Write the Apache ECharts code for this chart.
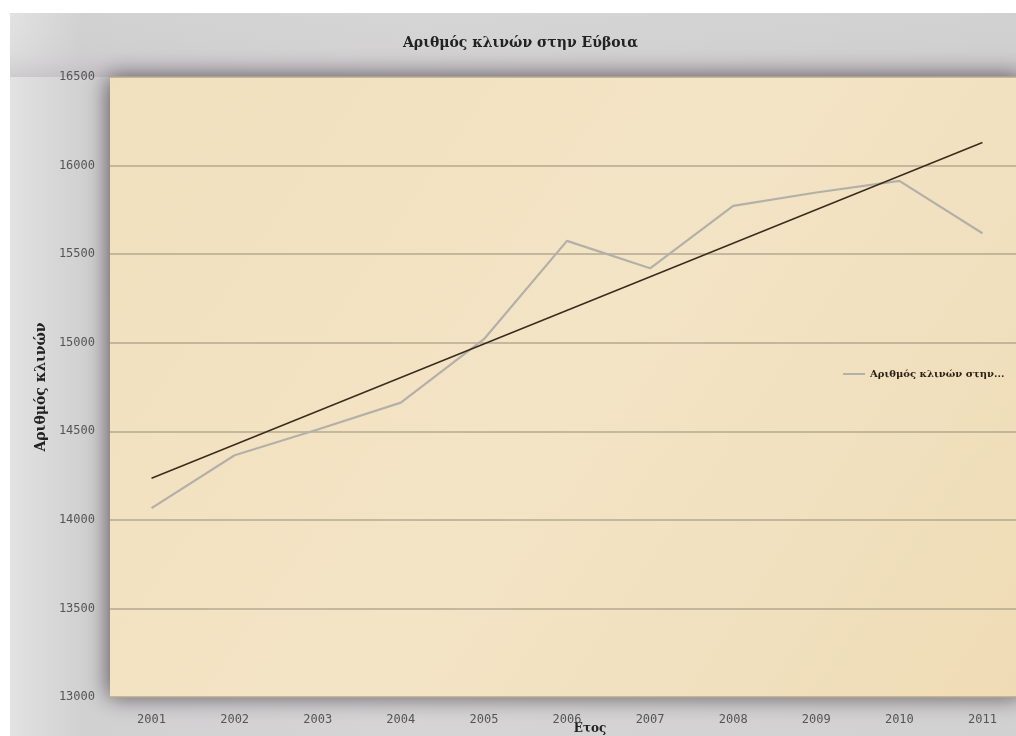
<!DOCTYPE html>
<html>
<head>
<meta charset="utf-8">
<script src="https://cdn.jsdelivr.net/npm/echarts@6/dist/echarts.min.js"></script>
<style>
html,body{margin:0;padding:0;background:#fff;}
#c{width:1016px;height:736px;}
</style>
</head>
<body>
<div id="c"></div>
<script>
const years = ['2001','2002','2003','2004','2005','2006','2007','2008','2009','2010','2011'];
const beds = [14066, 14365, 14510, 14662, 15020, 15575, 15420, 15772, 15848, 15914, 15618];
const trend = [14235, null, null, null, null, null, null, null, null, null, 16130];
const seriesName = 'Αριθμός κλινών στην Εύβοια';
const titleText = 'Αριθμός κλινών στην Εύβοια';
const yName = 'Αριθμός κλινών';
const xName = 'Ετος';

const chart = echarts.init(document.getElementById('c'), null, {renderer: 'canvas'});
const serif = '"DejaVu Serif", "Liberation Serif", serif';
const mono = '"DejaVu Sans Mono", "Liberation Mono", monospace';
chart.setOption({
  backgroundColor: '#ffffff',
  animation: false,
  graphic: [{
    type: 'rect', z: -10, silent: true,
    shape: {x: 10, y: 13, width: 1010, height: 730},
    style: {fill: new echarts.graphic.LinearGradient(0, 0, 1, 0, [
      {offset: 0, color: '#e2e2e2'}, {offset: 0.07, color: '#d2d1d2'}, {offset: 0.4, color: '#d6d5d5'}, {offset: 1, color: '#d2d1d1'}
    ])}
  }, {
    type: 'rect', z: -9, silent: true,
    shape: {x: 10, y: 13, width: 1010, height: 64},
    style: {fill: new echarts.graphic.LinearGradient(0, 0, 0, 1, [
      {offset: 0, color: 'rgba(210,209,209,0)'}, {offset: 0.6, color: 'rgba(195,193,195,0.15)'}, {offset: 1, color: 'rgba(160,150,160,0.3)'}
    ])}
  }],
  title: {
    text: titleText,
    left: 398,
    top: 31,
    textStyle: {fontFamily: serif, fontWeight: 'bold', fontSize: 14, color: '#222'}
  },
  legend: {
    data: [seriesName],
    orient: 'vertical',
    left: 838,
    top: 364,
    itemWidth: 22,
    itemHeight: 2,
    itemGap: 6,
    icon: 'rect',
    formatter: () => 'Αριθμός κλινών στην...',
    textStyle: {fontFamily: serif, fontWeight: 'bold', fontSize: 10, color: '#2a2218'}
  },
  grid: {
    left: 110, top: 77, right: -8, bottom: 39,
    outerBoundsMode: 'none',
    containLabel: false,
    show: true,
    backgroundColor: new echarts.graphic.LinearGradient(0, 0, 1, 1, [
      {offset: 0, color: '#f1e0bd'}, {offset: 0.5, color: '#f3e4c6'}, {offset: 1, color: '#efdcb6'}
    ]),
    borderWidth: 0,
    shadowColor: 'rgba(70,60,70,0.85)',
    shadowBlur: 22,
    shadowOffsetX: -2,
    shadowOffsetY: 0
  },
  xAxis: {
    type: 'category',
    data: years,
    boundaryGap: true,
    name: xName,
    nameLocation: 'middle',
    nameGap: 26,
    nameMoveOverlap: false,
    nameTextStyle: {fontFamily: serif, fontWeight: 'bold', fontSize: 12, color: '#222', padding: [0, 0, 0, 46]},
    axisLine: {show: false},
    axisTick: {show: false},
    axisLabel: {margin: 17, fontSize: 12, color: '#555', fontFamily: mono}
  },
  yAxis: {
    type: 'value',
    min: 13000, max: 16500, interval: 500,
    name: yName,
    nameLocation: 'middle',
    nameGap: 62,
    nameMoveOverlap: false,
    nameTextStyle: {fontFamily: serif, fontWeight: 'bold', fontSize: 14, color: '#222'},
    axisLine: {show: false},
    axisTick: {show: false},
    axisLabel: {margin: 15, fontSize: 12, color: '#555', fontFamily: mono, formatter: v => String(v)},
    splitLine: {show: true, lineStyle: {color: '#b3a88f', width: 1.5}}
  },
  series: [{
    name: seriesName,
    type: 'line',
    data: beds,
    symbol: 'none',
    lineStyle: {color: '#b4b0a8', width: 2.2},
    itemStyle: {color: '#b4b0a8'},
    z: 3
  }, {
    name: 'trend',
    type: 'line',
    data: trend,
    connectNulls: true,
    symbol: 'none',
    lineStyle: {color: '#3a2c1c', width: 1.5},
    z: 4
  }]
});
</script>
</body>
</html>
